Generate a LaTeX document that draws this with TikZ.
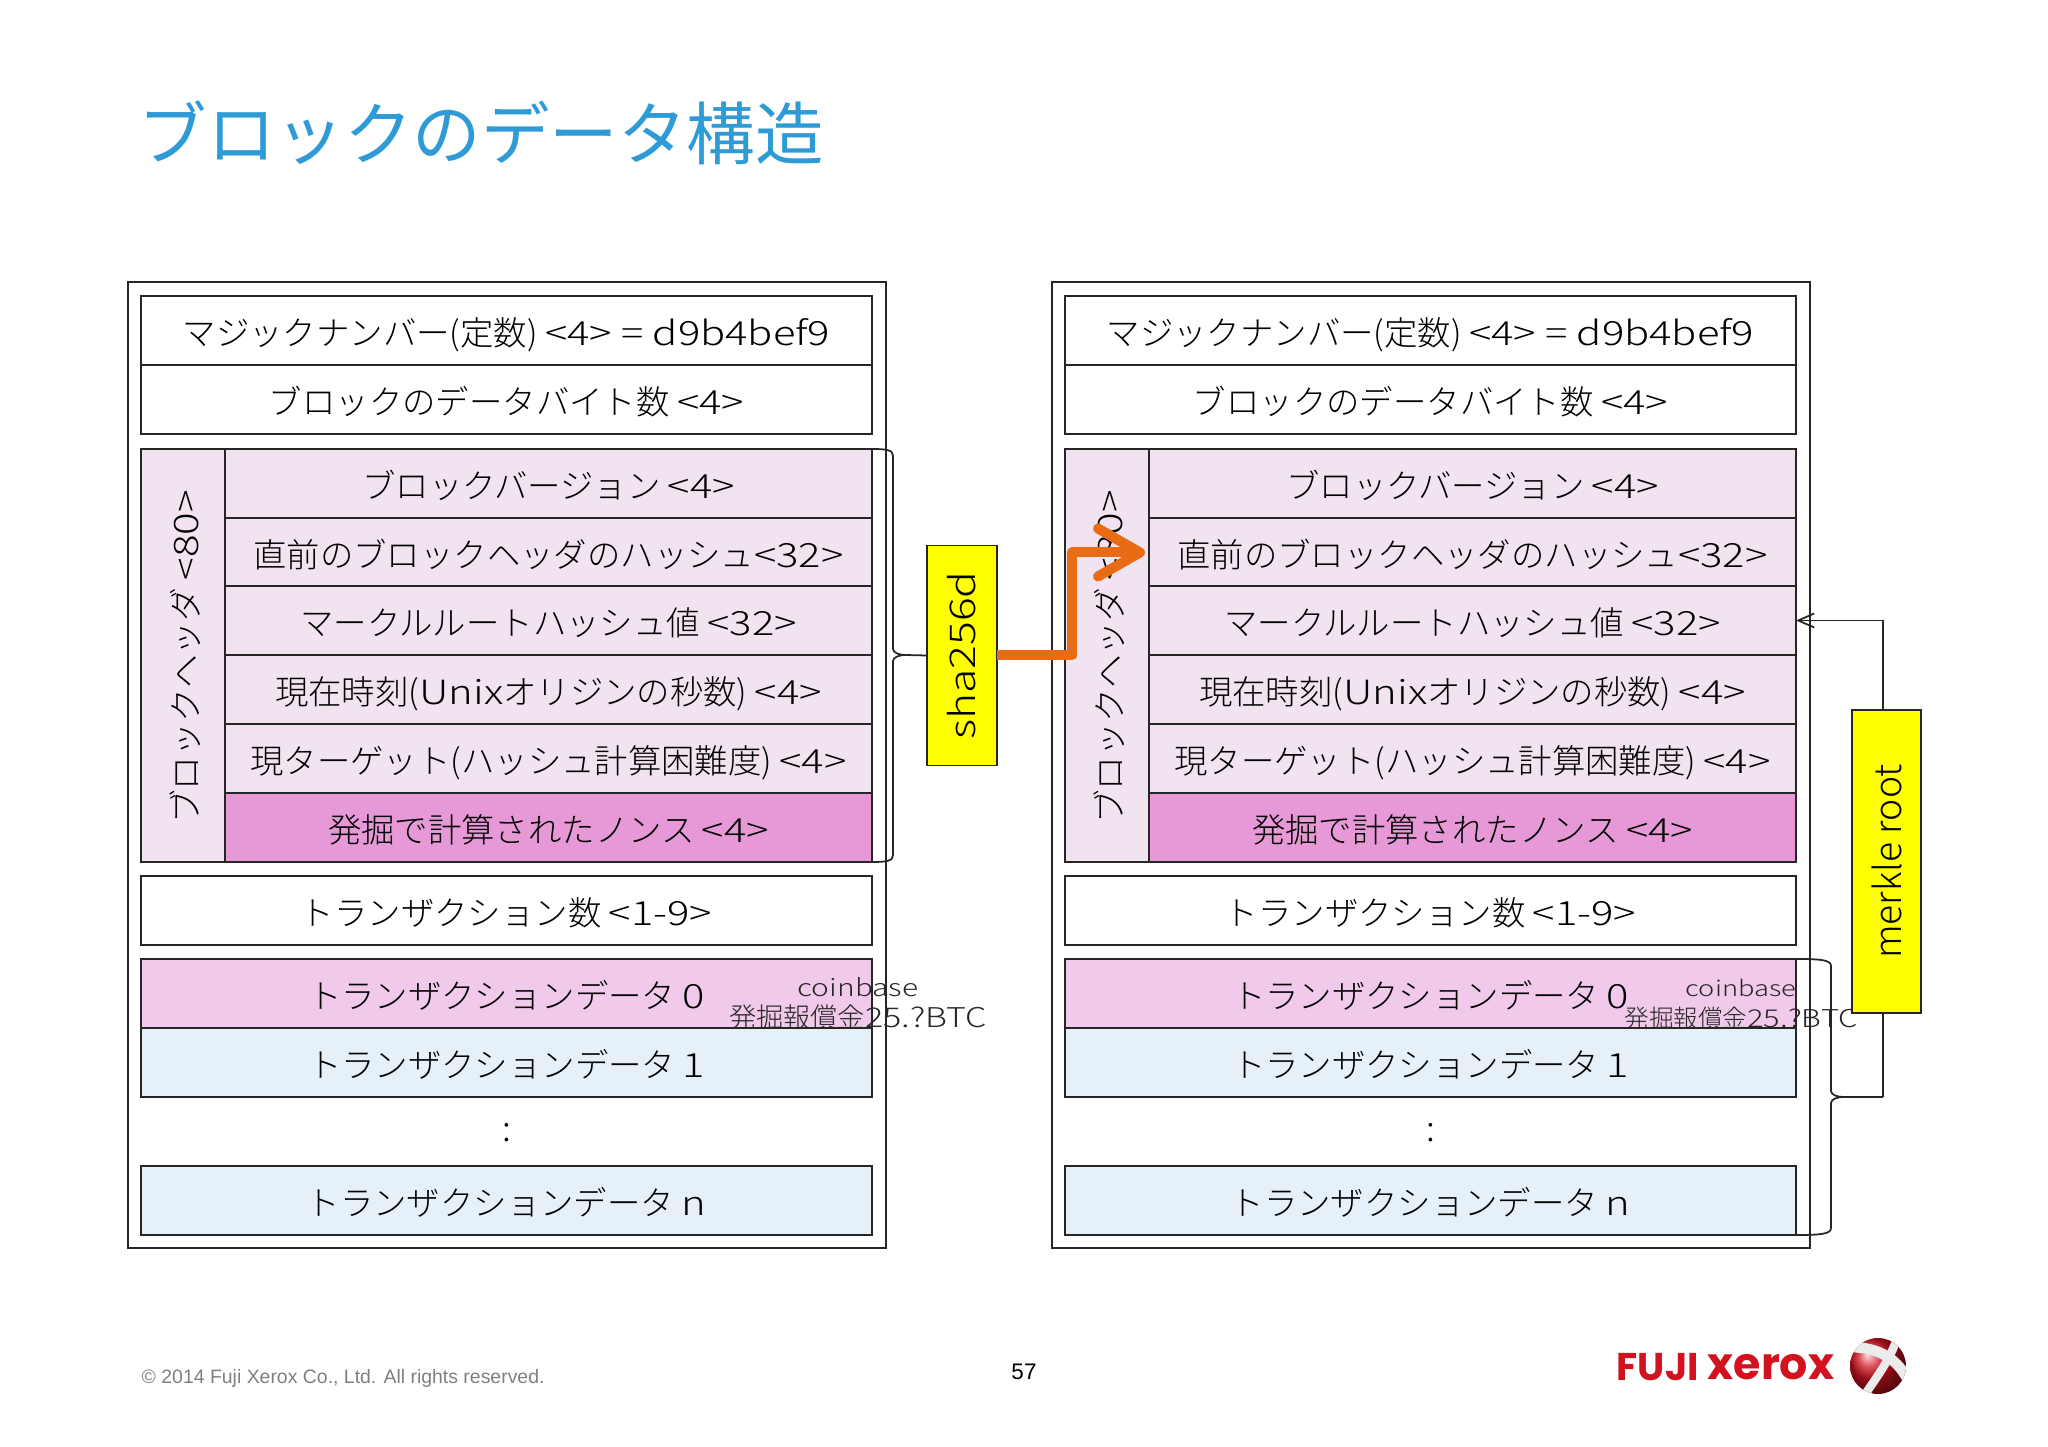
\documentclass[tikz,border=0pt]{standalone}
\usepackage{fontspec}
\usepackage{xcolor}
\usetikzlibrary{arrows.meta,calc}
\setmainfont{Noto Sans CJK JP}[UprightFont=* Light]
\newfontfamily\latfont{Noto Sans CJK JP}[UprightFont=* Light,FakeStretch=1.25]
\newfontfamily\titlefont{Noto Sans CJK JP}
\newfontfamily\footfont{Liberation Sans}
\newfontfamily\logofont{Poppins}
\newcommand{\lat}[1]{{\latfont #1}}
\definecolor{slideblue}{HTML}{2E9AD6}
\definecolor{hdrpink}{HTML}{F1E4F0}
\definecolor{noncepink}{HTML}{E699D6}
\definecolor{txpink}{HTML}{F1C9EA}
\definecolor{txblue}{HTML}{E5F0F9}
\definecolor{hashorange}{HTML}{E96C14}
\definecolor{hashyellow}{HTML}{FFFF00}
\definecolor{logored}{HTML}{D2121F}
\definecolor{footgray}{HTML}{7F7F7F}
\tikzset{
  cell/.style={draw=black!85,line width=0.55pt,inner sep=0pt,outer sep=0pt,align=center,font=\fontsize{9.5}{12}\selectfont,minimum height=0.69cm,text height=10pt,text depth=1.2pt},
  fullrow/.style={cell,minimum width=7.31cm,fill=white},
  hdrrow/.style={cell,minimum width=6.47cm,fill=hdrpink},
  noncerow/.style={hdrrow,fill=noncepink},
  txrow/.style={fullrow,fill=txblue},
  txfirst/.style={fullrow,fill=txpink},
  hdrside/.style={draw=black!85,line width=0.55pt,inner sep=0pt,outer sep=0pt,minimum width=0.84cm,minimum height=4.13cm,fill=hdrpink},
  hashbox/.style={draw=black!85,line width=0.55pt,fill=hashyellow,inner sep=0pt,outer sep=0pt},
  outerbox/.style={draw=black!85,line width=0.75pt},
  bracket/.style={draw=black!85,line width=0.5pt},
  hasharrow/.style={-{Straight Barb[length=4.2mm,width=4.8mm,round]},draw=hashorange,line width=1mm,line join=round,shorten >=0.4mm},
  rootarrow/.style={-{Straight Barb[length=1.6mm,width=1.4mm]},draw=black!85,line width=0.5pt},
  noteleft/.style={align=center,inner sep=0pt,font=\fontsize{7.75}{8.8}\selectfont,text=black!85},
  noteright/.style={align=center,inner sep=0pt,font=\fontsize{7}{8.8}\selectfont,text=black!85},
}
\begin{document}
\begin{tikzpicture}[x=1cm,y=-1cm]
  \useasboundingbox (0,0) rectangle (20.48,14.47);
  \node[inner sep=0pt,anchor=west,text=slideblue,font=\titlefont\fontsize{19.5}{22}\selectfont] (title) at (1.38,1.33) {ブロックのデータ構造};
  % the two blocks
  \foreach \blk/\xo in {a/0,b/9.24} {
    \begin{scope}[xshift=\xo cm]
      \draw[outerbox] (1.28,2.82) rectangle (8.86,12.48);
      \foreach \nm/\yy/\sty/\txt in {
        magic/3.305/fullrow/{マジックナンバー(定数) \lat{<4> = d9b4bef9}},
        size/3.995/fullrow/{ブロックのデータバイト数 \lat{<4>}},
        count/9.105/fullrow/{トランザクション数 \lat{<1-9>}},
        txa/9.935/txfirst/{トランザクションデータ \lat{0}},
        txb/10.625/txrow/{トランザクションデータ \lat{1}},
        txn/12.005/txrow/{トランザクションデータ \lat{n}}}
        {\node[\sty] (\blk\nm) at (5.065,\yy) {\txt};}
      \foreach \nm/\yy/\sty/\txt in {
        ver/4.835/hdrrow/{ブロックバージョン \lat{<4>}},
        prev/5.525/hdrrow/{直前のブロックヘッダのハッシュ\lat{<32>}},
        root/6.205/hdrrow/{マークルルートハッシュ値 \lat{<32>}},
        time/6.895/hdrrow/{現在時刻(\lat{Unix}オリジンの秒数) \lat{<4>}},
        bits/7.585/hdrrow/{現ターゲット(ハッシュ計算困難度) \lat{<4>}},
        nonce/8.275/noncerow/{発掘で計算されたノンス \lat{<4>}}}
        {\node[\sty] (\blk\nm) at (5.485,\yy) {\txt};}
      \node[hdrside] (\blk side) at (1.83,6.555) {};
      \node[rotate=90,inner sep=0pt,font=\fontsize{9.6}{12}\selectfont] (\blk sidetext) at (1.85,6.57) {ブロックヘッダ \lat{<80>}};
      \node[inner sep=0pt,font=\fontsize{10}{12}\selectfont] (\blk dots) at (5.07,11.33) {:};
    \end{scope}
  }
  \node[noteleft] (anote) at (8.58,10.04) {{\fontsize{6.8}{8.8}\selectfont\lat{coinbase}}\\発掘報償金\lat{25.?BTC}};
  \node[noteright] (bnote) at (17.41,10.04) {{\fontsize{6.2}{8.8}\selectfont\lat{coinbase}}\\発掘報償金\lat{25.?BTC}};
  % hash of the header
  \node[hashbox,minimum width=0.7cm,minimum height=2.2cm,font=\fontsize{10.1}{12}\selectfont] (shabox) at (9.62,6.555) {\rotatebox{90}{\lat{sha256d}}};
  \draw[bracket] (aver.north east) .. controls +(0.15,0) and +(0,-0.06) .. (8.93,4.56) -- (8.93,6.49) .. controls +(0,0.04) and +(-0.05,0) .. (9.05,6.55) -- (shabox.west);
  \draw[bracket] (anonce.south east) .. controls +(0.15,0) and +(0,0.06) .. (8.93,8.55) -- (8.93,6.61) .. controls +(0,-0.04) and +(-0.05,0) .. (9.05,6.55);
  \draw[hasharrow] (shabox.east) -- (10.72,6.555) |- (bprev.west);
  % merkle root
  \node[hashbox,minimum width=0.69cm,minimum height=3.03cm,font=\fontsize{10.6}{12}\selectfont] (merkle) at (18.865,8.615) {\rotatebox{90}{merkle root}};
  \coordinate (merkletip) at (18.83,10.97);
  \draw[bracket] (btxa.north east) .. controls +(0.25,0) and +(0,-0.06) .. (18.31,9.66) -- (18.31,10.91) .. controls +(0,0.04) and +(-0.05,0) .. (18.43,10.97) -- (merkletip);
  \draw[bracket] (btxn.south east) .. controls +(0.25,0) and +(0,0.06) .. (18.31,12.28) -- (18.31,11.03) .. controls +(0,-0.04) and +(-0.05,0) .. (18.43,10.97);
  \draw[bracket] (merkletip) -- (merkletip |- merkle.south);
  \draw[rootarrow] (merkletip |- merkle.north) |- (broot.east);
  % footer
  \node[inner sep=0pt,anchor=west,text=footgray,font=\footfont\fontsize{5.53}{7}\selectfont] (copyright) at (1.41,13.78) {© 2014 Fuji Xerox Co., Ltd. All rights reserved.};
  \node[inner sep=0pt,font=\footfont\fontsize{6.4}{8}\selectfont] (pageno) at (10.24,13.72) {57};
  \node[inner sep=0pt,anchor=west,text=logored,font=\logofont\bfseries\fontsize{11}{12}\selectfont] (logofuji) at (16.16,13.67) {FUJI};
  \node[inner sep=0pt,anchor=west,text=logored,font=\logofont\bfseries\fontsize{12.6}{14}\selectfont] (logoxerox) at (17.07,13.67) {xerox};
  \begin{scope}
    \clip (18.78,13.66) circle (0.28);
    \shade[ball color=logored] (18.78,13.66) circle (0.28);
    \draw[white!92!black,line width=3pt] (18.52,13.47) .. controls (18.75,13.48) and (18.95,13.55) .. (19.08,13.8);
    \draw[white!92!black,line width=2.4pt] (18.98,13.36) .. controls (18.9,13.6) and (18.78,13.75) .. (18.64,13.96);
  \end{scope}
\end{tikzpicture}
\end{document}
